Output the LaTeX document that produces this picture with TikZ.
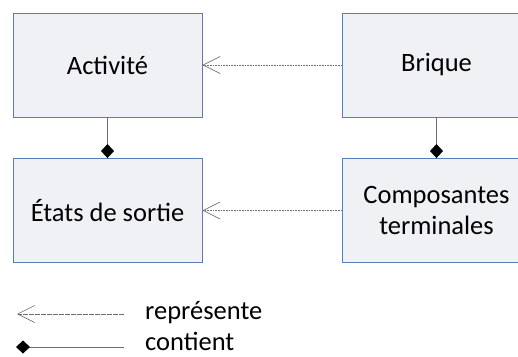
\documentclass[tikz,border=0pt]{standalone}
\usepackage{fontspec}
\setmainfont{Carlito}
\usetikzlibrary{arrows.meta}
\definecolor{boxfill}{RGB}{239,241,244}
\definecolor{boxline}{RGB}{86,128,180}
\definecolor{conn}{RGB}{110,110,110}
\begin{document}
\begin{tikzpicture}[x=1pt,y=-1pt,
  box/.style={draw=boxline, line width=0.9pt, fill=boxfill, minimum width=189pt, minimum height=104pt, inner sep=0pt, align=center, font=\fontsize{26.5}{31}\selectfont},
  repr/.style={draw=conn, line width=0.6pt, densely dotted, -{Straight Barb[length=17pt,width=17pt,line width=0.6pt,sep=0pt]}},
  cont/.style={draw=conn, line width=0.9pt, -{Diamond[length=14pt,width=13pt,black,fill=black]}},
  lbl/.style={anchor=base west, inner sep=0pt, font=\fontsize{26.5}{31}\selectfont}]
\useasboundingbox (0,0) rectangle (518,356);
\clip (0,0) rectangle (518,356);
\node[box] (act) at (107.5,65) {Activité};
\node[box] (etat) at (107.5,210.5) {États de sortie};
\node[box] (brq) at (436.5,65) {Brique};
\node[box] (comp) at (436.5,210.5) {Composantes\\terminales};
\draw[repr] (brq.west) -- (act.east);
\draw[repr] (comp.west) -- (etat.east);
\draw[cont] (act.south) -- (etat.north);
\draw[cont] (brq.south) -- (comp.north);
\coordinate (r1) at (124,314);
\coordinate (r0) at (17,314);
\coordinate (c1) at (124,347);
\coordinate (c0) at (16,347);
\draw[repr, solid, dash pattern=on 0.6pt off 0.6pt] (r1) -- (r0);
\draw[cont] (c1) -- (c0);
\node[lbl] (tr) at (145,319) {représente};
\node[lbl] (tc) at (145,350) {contient};
\end{tikzpicture}
\end{document}
